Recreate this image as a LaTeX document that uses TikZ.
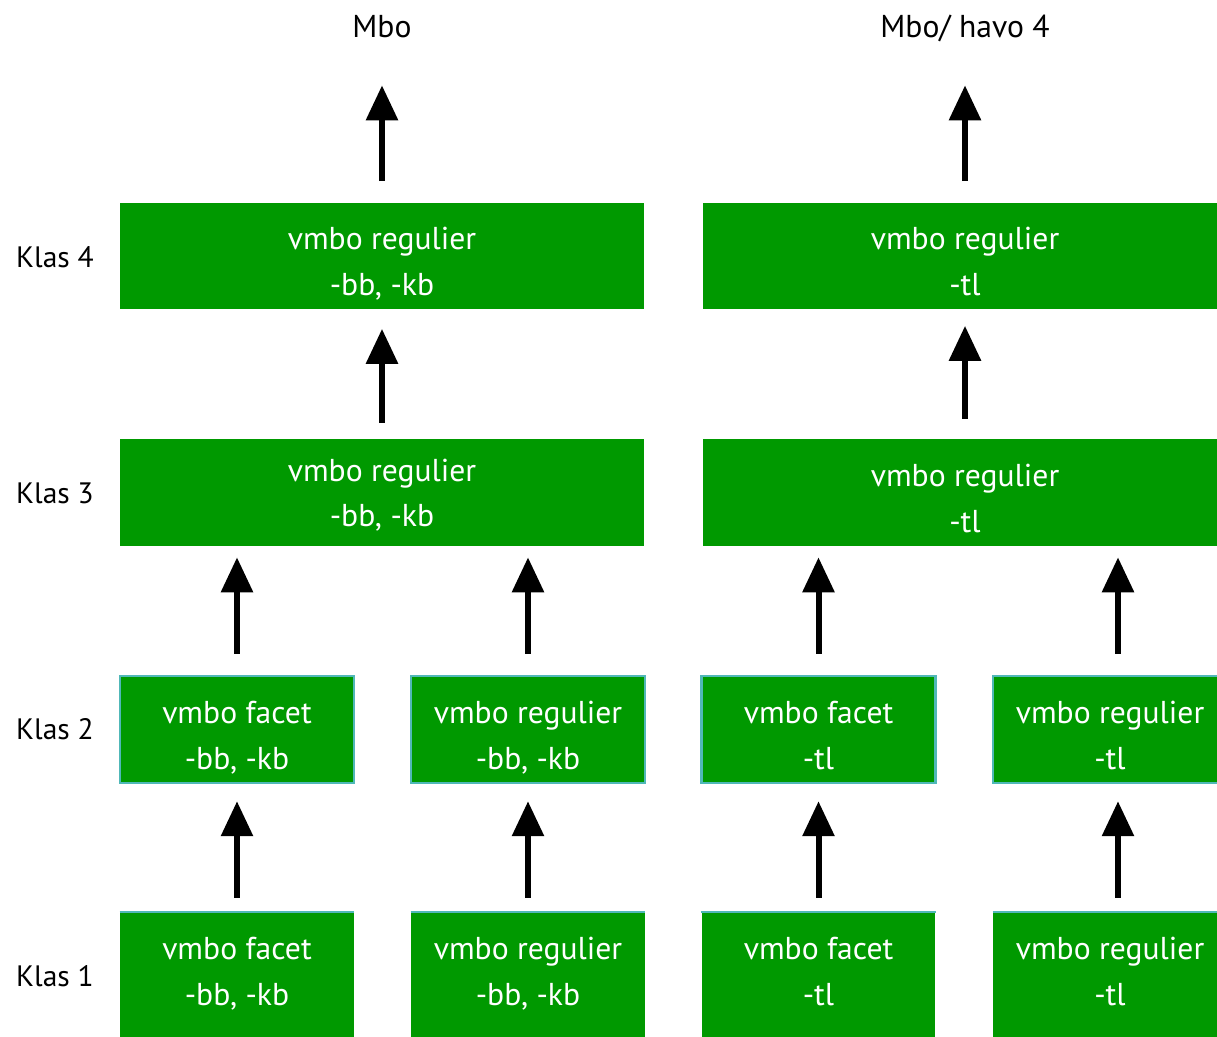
\documentclass[tikz,border=0pt]{standalone}
\usepackage{fontspec}
\setmainfont{PT Sans}
\usetikzlibrary{arrows.meta,positioning}
\definecolor{boxgreen}{RGB}{0,153,0}
\definecolor{edgeteal}{RGB}{80,184,184}

\begin{document}
\begin{tikzpicture}[
  x=0.02cm, y=-0.02cm,
  wide/.style={rectangle, fill=boxgreen, text=white, minimum width=10.5cm, minimum height=2.14cm, align=center, font=\fontsize{18}{26}\selectfont, inner sep=0pt, text height=45pt, text depth=0pt},
  small/.style={wide, minimum width=4.68cm},
  framed/.style={small, draw=edgeteal, line width=0.05cm},
  lowbox/.style={small, minimum height=2.5cm, text height=35pt},
  lbl/.style={font=\fontsize{16.8}{20}\selectfont, inner sep=0pt},
  top/.style={font=\fontsize{18}{20}\selectfont, inner sep=0pt, anchor=base, text depth=0pt},
  arr/.style={-{Triangle[width=0.62cm, length=0.7cm]}, line width=0.12cm}
]
\useasboundingbox (0,0) rectangle (1217,1037);

\node[top] (mbo) at (382,38) {Mbo};
\node[top] (havo) at (965,38) {Mbo/ havo 4};

\node[wide] (k4a) at (382,256) {vmbo regulier\\-bb, -kb};
\node[wide] (k4b) at (965,256) {vmbo regulier\\-tl};
\node[wide, text height=39pt] (k3a) at (382,492.5) {vmbo regulier\\-bb, -kb};
\node[wide] (k3b) at (965,492.5) {vmbo regulier\\-tl};

\node[framed] (k2a) at (237,729.5) {vmbo facet\\-bb, -kb};
\node[framed] (k2b) at (528,729.5) {vmbo regulier\\-bb, -kb};
\node[framed] (k2c) at (818.5,729.5) {vmbo facet\\-tl};
\node[framed] (k2d) at (1110,729.5) {vmbo regulier\\-tl};

\node[lowbox] (k1a) at (237,974.5) {vmbo facet\\-bb, -kb};
\node[lowbox] (k1b) at (528,974.5) {vmbo regulier\\-bb, -kb};
\node[lowbox] (k1c) at (818.5,974.5) {vmbo facet\\-tl};
\node[lowbox] (k1d) at (1110,974.5) {vmbo regulier\\-tl};
\foreach \n in {k1a,k1b,k1c,k1d}
  \draw[edgeteal, line width=0.04cm] (\n.north west) -- (\n.north east);

\node[lbl] (l4) at (55,257) {Klas 4};
\node[lbl] (l3) at (55,493) {Klas 3};
\node[lbl] (l2) at (55,729) {Klas 2};
\node[lbl] (l1) at (55,976) {Klas 1};

\draw[arr, shorten <=0.42cm, shorten >=0.94cm] (k4a.north) -- (mbo.south);
\draw[arr, shorten <=0.42cm, shorten >=0.94cm] (k4b.north) -- (havo.south);
\draw[arr, shorten <=0.32cm, shorten >=0.38cm] (k3a.north) -- (k4a.south);
\draw[arr, shorten <=0.4cm, shorten >=0.32cm] (k3b.north) -- (k4b.south);
\foreach \lo/\hi in {k2a/k3a, k2b/k3a, k2c/k3b}
  \draw[arr, shorten <=0.42cm, shorten >=0.22cm] (\lo.north) -- (\lo.north |- \hi.south);
\draw[arr, shorten <=0.42cm, shorten >=0.22cm] ([xshift=0.16cm]k2d.north) -- ([xshift=0.16cm]k2d.north |- k3b.south);
\foreach \lo/\hi in {k1a/k2a, k1b/k2b, k1c/k2c}
  \draw[arr, shorten <=0.28cm, shorten >=0.34cm] (\lo.north) -- (\hi.south);
\draw[arr, shorten <=0.28cm, shorten >=0.34cm] ([xshift=0.16cm]k1d.north) -- ([xshift=0.16cm]k2d.south);
\end{tikzpicture}
\end{document}
